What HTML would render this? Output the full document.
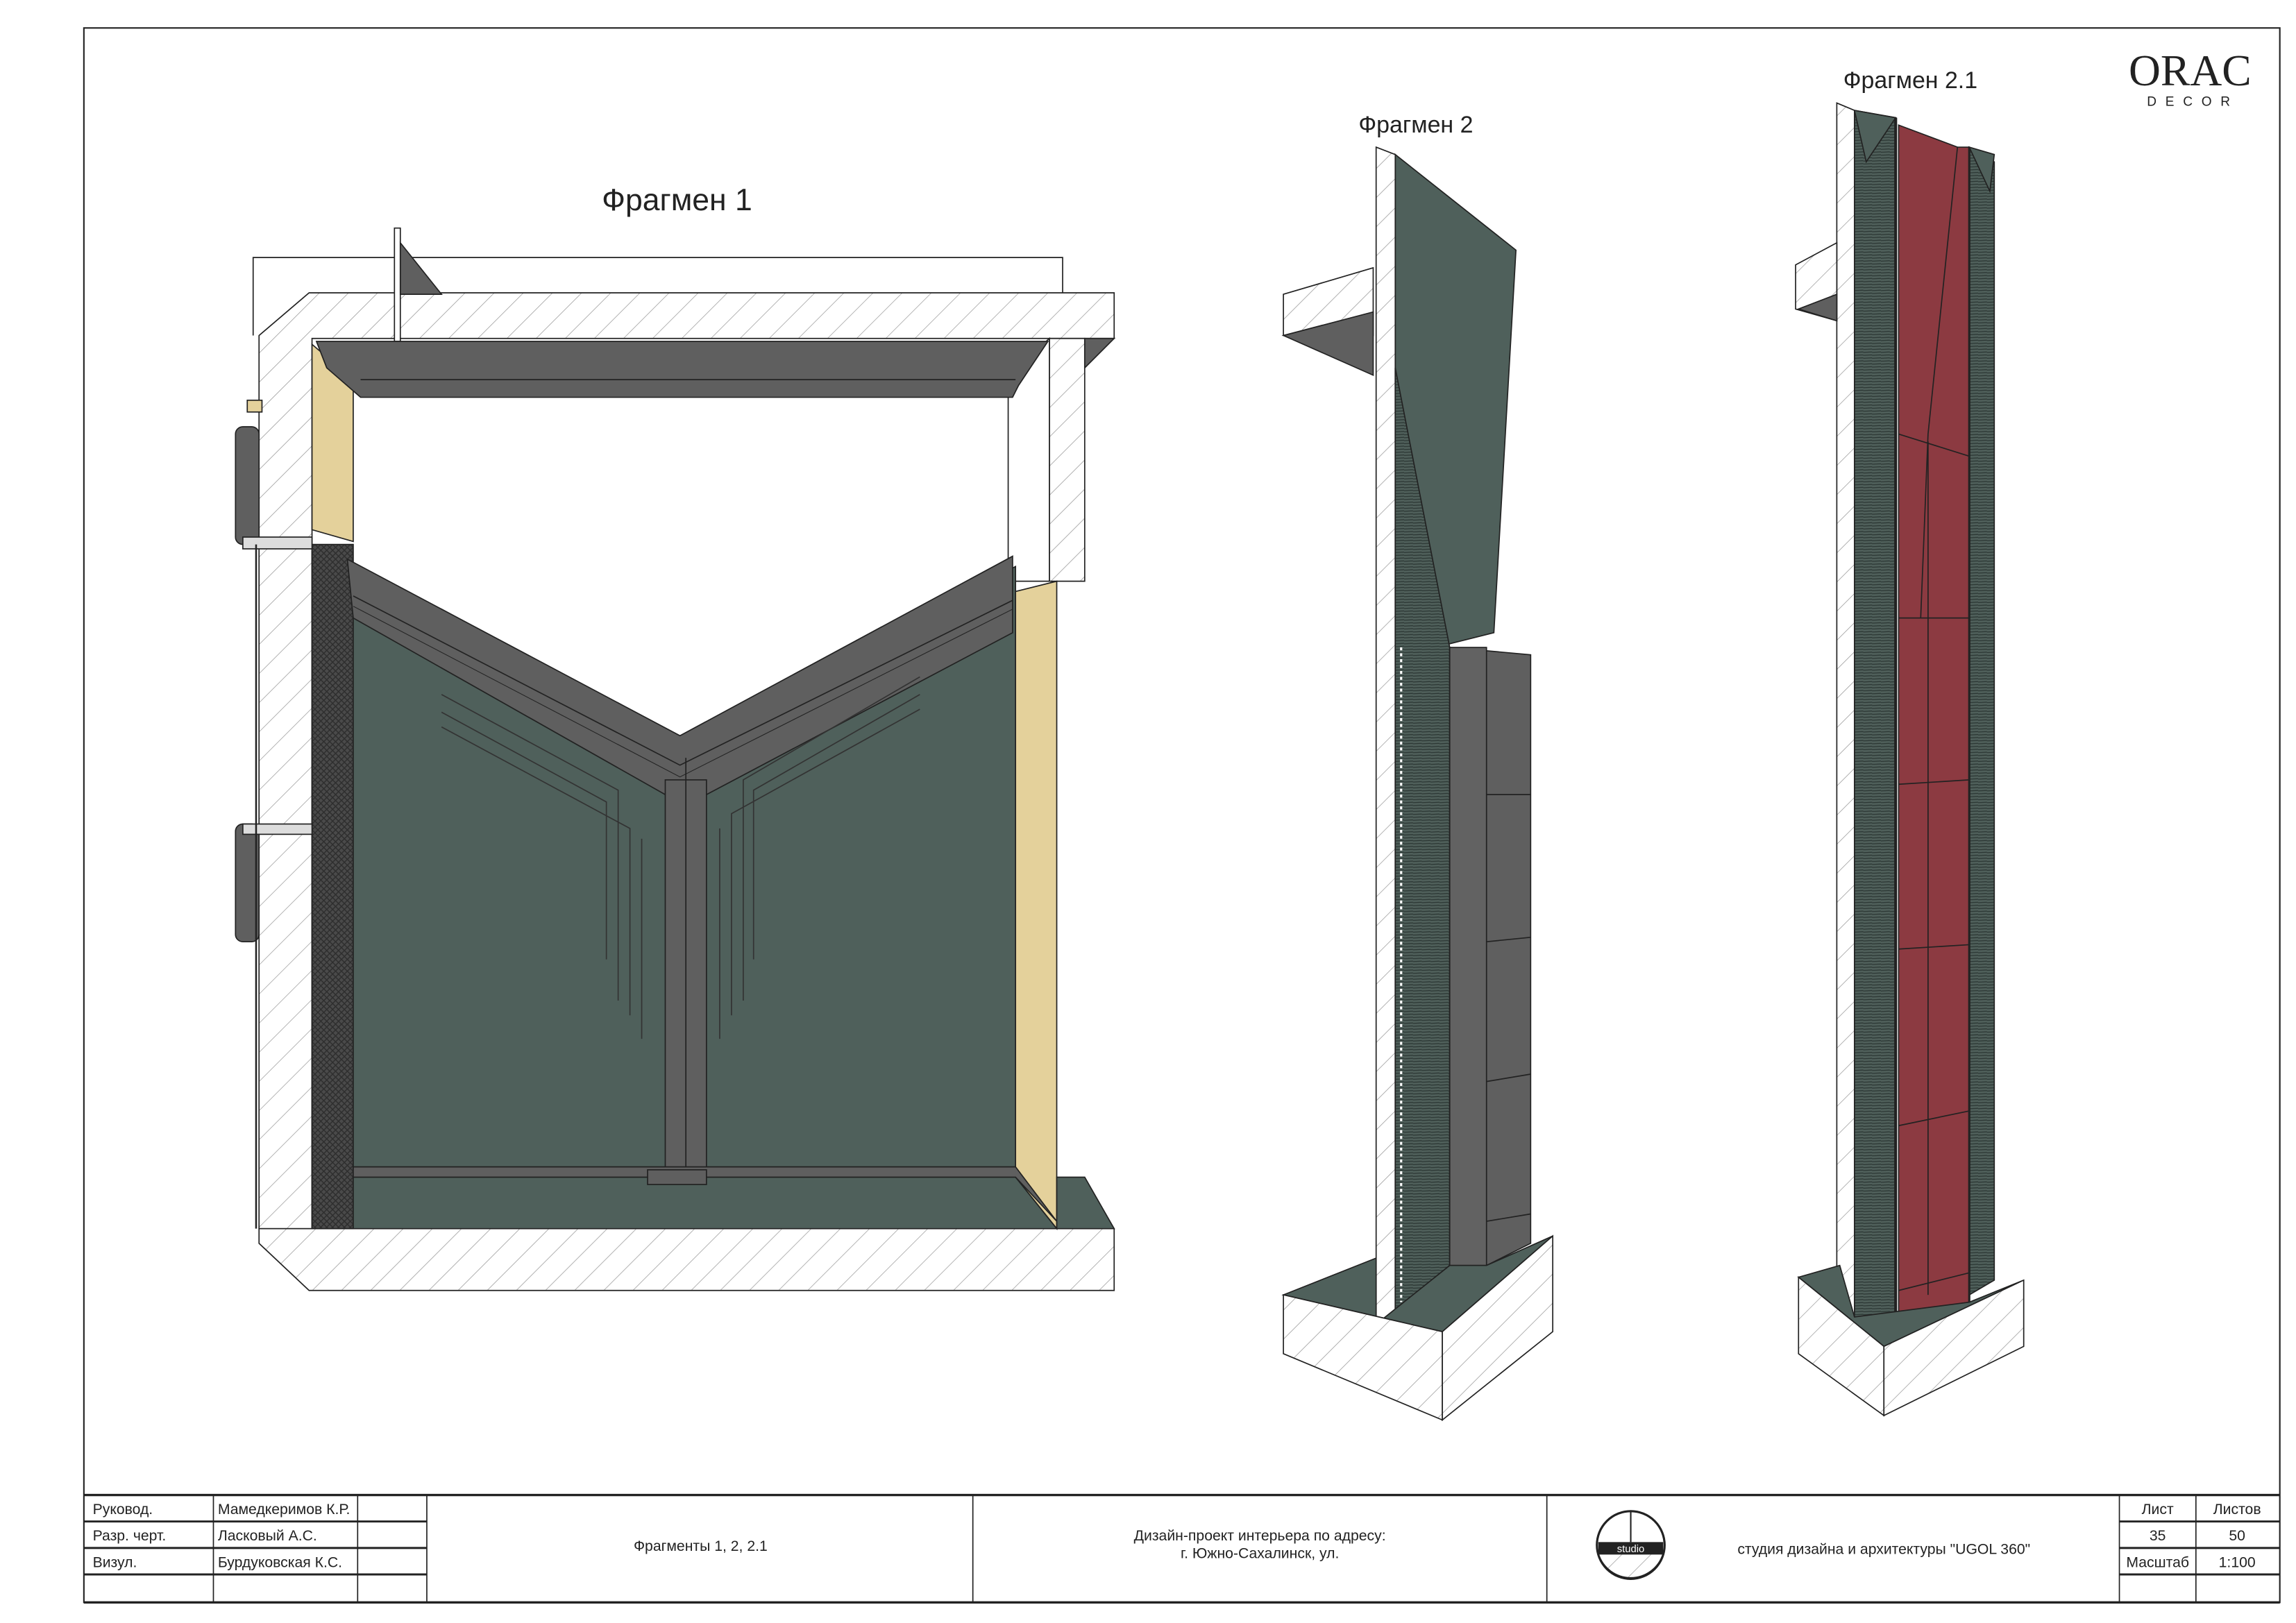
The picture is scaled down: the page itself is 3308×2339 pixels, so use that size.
<!DOCTYPE html>
<html><head><meta charset="utf-8"><style>
html,body{margin:0;padding:0;background:#fff;}
svg{display:block;}
text{font-family:"Liberation Sans Narrow","Liberation Sans",sans-serif;fill:#222;}
</style></head><body>
<svg width="3308" height="2339" viewBox="0 0 1560 1103" preserveAspectRatio="none" xmlns="http://www.w3.org/2000/svg">
<defs>
<pattern id="h" width="14" height="14" patternUnits="userSpaceOnUse" patternTransform="rotate(45)">
<rect width="14" height="14" fill="#fff"/><line x1="0" y1="0" x2="0" y2="14" stroke="#999" stroke-width="0.7"/></pattern>
<pattern id="m" width="4" height="4" patternUnits="userSpaceOnUse">
<rect width="4" height="4" fill="#4a4a4a"/><path d="M0 0L4 4M4 0L0 4" stroke="#2e2e2e" stroke-width="0.7"/></pattern>
<pattern id="s" width="6" height="2" patternUnits="userSpaceOnUse">
<rect width="6" height="2" fill="#4f5f5a"/><line x1="0" y1="1.5" x2="6" y2="1.2" stroke="#2a3532" stroke-width="0.6"/></pattern>
</defs>
<rect width="1560" height="1103" fill="#fff"/>
<rect x="57" y="19" width="1492" height="1070" fill="none" stroke="#222" stroke-width="1"/>
<g stroke="#222" stroke-width="0.8" fill="none">
<line x1="57" y1="1016" x2="1549" y2="1016" stroke-width="1.6"/>
<line x1="57" y1="1089" x2="1549" y2="1089" stroke-width="1.6"/>
<line x1="57" y1="1034" x2="290" y2="1034" stroke-width="1.4"/>
<line x1="57" y1="1052" x2="290" y2="1052" stroke-width="1.4"/>
<line x1="57" y1="1070" x2="290" y2="1070" stroke-width="1.4"/>
<line x1="1440" y1="1034" x2="1549" y2="1034" stroke-width="1.4"/>
<line x1="1440" y1="1052" x2="1549" y2="1052" stroke-width="1.4"/>
<line x1="1440" y1="1070" x2="1549" y2="1070" stroke-width="1.4"/>
<line x1="145" y1="1016" x2="145" y2="1089"/><line x1="243" y1="1016" x2="243" y2="1089"/>
<line x1="290" y1="1016" x2="290" y2="1089"/><line x1="661" y1="1016" x2="661" y2="1089"/>
<line x1="1051" y1="1016" x2="1051" y2="1089"/><line x1="1440" y1="1016" x2="1440" y2="1089"/>
<line x1="1492" y1="1016" x2="1492" y2="1089"/>
</g>
<g font-size="10">
<text x="63" y="1029">Руковод.</text><text x="148" y="1029">Мамедкеримов К.Р.</text>
<text x="63" y="1047">Разр. черт.</text><text x="148" y="1047">Ласковый А.С.</text>
<text x="63" y="1065">Визул.</text><text x="148" y="1065">Бурдуковская К.С.</text>
<text x="476" y="1054" text-anchor="middle">Фрагменты 1, 2, 2.1</text>
<text x="856" y="1047" text-anchor="middle">Дизайн-проект интерьера по адресу:</text>
<text x="856" y="1059" text-anchor="middle">г. Южно-Сахалинск, ул.</text>
<text x="1280" y="1056" text-anchor="middle">студия дизайна и архитектуры "UGOL 360"</text>
<text x="1466" y="1029" text-anchor="middle">Лист</text><text x="1520" y="1029" text-anchor="middle">Листов</text>
<text x="1466" y="1047" text-anchor="middle">35</text><text x="1520" y="1047" text-anchor="middle">50</text>
<text x="1466" y="1065" text-anchor="middle">Масштаб</text><text x="1520" y="1065" text-anchor="middle">1:100</text>
</g>
<circle cx="1108" cy="1050" r="23" fill="#fff" stroke="#222" stroke-width="1.5"/>
<path d="M1086 1056 A23 23 0 0 0 1130 1056 Z" fill="url(#h)" stroke="#222"/>
<rect x="1086" y="1048" width="44" height="8" fill="#222"/>
<text x="1108" y="1055" font-size="7" text-anchor="middle" style="fill:#fff">studio</text>
<line x1="1108" y1="1027" x2="1108" y2="1048" stroke="#222"/>
<text x="460" y="143" font-size="21" text-anchor="middle">Фрагмен 1</text>
<text x="962" y="90" font-size="16" text-anchor="middle">Фрагмен 2</text>
<text x="1298" y="60" font-size="16" text-anchor="middle">Фрагмен 2.1</text>
<text x="1488" y="58" font-size="30" text-anchor="middle" style="font-family:'Liberation Serif',serif">ORAC</text>
<text x="1490" y="72" font-size="9" text-anchor="middle" letter-spacing="6">DECOR</text>

<!-- FRAGMENT 1 -->
<g stroke="#222" stroke-width="0.8">
<polyline points="172,228 172,175 722,175 722,199" fill="none"/>
<polygon points="210,199 757,199 757,230 212,230 212,835 176,835 176,228" fill="url(#h)"/>
<polygon points="176,835 757,835 757,877 210,877 176,845" fill="url(#h)"/>
<polygon points="713,230 737,230 737,395 713,395" fill="url(#h)"/>
<polygon points="685,255 713,230 713,395 685,395" fill="#fff"/>
<polygon points="737,230 757,230 737,250" fill="#5f5f5f"/>
<polygon points="268,155 272,155 272,232 268,232" fill="#fff"/>
<polygon points="272,165 300,200 272,200" fill="#5f5f5f"/>
<polygon points="212,234 240,258 240,368 212,360" fill="#e4d19b"/>
<polygon points="690,402 718,395 718,835 690,800" fill="#e4d19b"/>
<polygon points="212,375 462,505 690,385 690,800 718,835 212,835" fill="#4f605b"/>
<polygon points="718,800 737,800 757,835 718,835" fill="#4f605b"/>
<rect x="212" y="370" width="28" height="465" fill="url(#m)"/>
<polygon points="215,232 712,232 692,262 688,270 245,270 222,250" fill="#5f5f5f"/>
<line x1="245" y1="258" x2="690" y2="258"/>
<polygon points="236,380 462,500 688,378 688,430 480,540 452,540 240,420" fill="#5f5f5f"/>
<polyline points="240,405 462,520 688,408" fill="none"/>
<polyline points="240,412 462,528 688,414" fill="none" stroke-width="0.5"/>
<rect x="452" y="530" width="28" height="270" fill="#5f5f5f"/>
<line x1="466" y1="515" x2="466" y2="800"/>
<polygon points="240,793 690,793 718,830 690,800 240,800" fill="#5f5f5f"/>
<rect x="440" y="795" width="40" height="10" fill="#5f5f5f"/>
<g fill="none" stroke="#333" stroke-width="0.8">
<polyline points="300,472 420,537 420,680"/><polyline points="300,484 412,545 412,652"/>
<polyline points="300,494 428,563 428,690"/><polyline points="436,570 436,706"/>
<polyline points="625,460 505,530 505,680"/><polyline points="625,472 512,537 512,652"/>
<polyline points="625,482 497,553 497,690"/><polyline points="489,563 489,706"/>
</g>
<rect x="160" y="290" width="16" height="80" rx="5" fill="#5f5f5f"/>
<rect x="165" y="365" width="47" height="8" fill="#ddd"/>
<rect x="160" y="560" width="16" height="80" rx="5" fill="#5f5f5f"/>
<rect x="165" y="560" width="47" height="7" fill="#ddd"/>
<rect x="168" y="272" width="10" height="8" fill="#e4d19b"/>
<line x1="174" y1="370" x2="174" y2="835" stroke-width="1.2"/>
</g>

<!-- FRAGMENT 2 -->
<g stroke="#222" stroke-width="0.8">
<polygon points="948,105 1030,170 1015,430 975,440 948,330" fill="#4f605b"/>
<polygon points="872,200 933,182 933,228 872,228" fill="url(#h)"/>
<polygon points="872,228 933,212 933,255" fill="#5f5f5f"/>
<polygon points="935,100 948,105 948,925 935,925" fill="url(#h)"/>
<polygon points="948,250 985,440 985,860 948,890" fill="url(#s)"/>
<line x1="952" y1="440" x2="952" y2="885" stroke="#fff" stroke-width="1.5" stroke-dasharray="2 2"/>
<polygon points="985,440 1040,445 1040,845 1010,860 985,860" fill="#5f5f5f"/>
<rect x="985" y="440" width="25" height="420" fill="#626262"/>
<g fill="none"><line x1="1010" y1="540" x2="1040" y2="540"/><line x1="1010" y1="640" x2="1040" y2="637"/><line x1="1010" y1="735" x2="1040" y2="730"/><line x1="1010" y1="830" x2="1040" y2="825"/></g>
<polygon points="872,880 935,855 935,900 985,860 1010,860 1055,840 980,905" fill="#4f605b"/>
<polygon points="872,880 980,905 980,965 872,920" fill="url(#h)"/>
<polygon points="980,905 1055,840 1055,905 980,965" fill="url(#h)"/>
</g>

<!-- FRAGMENT 2.1 -->
<g stroke="#222" stroke-width="0.8">
<polygon points="1248,70 1260,75 1260,895 1248,890" fill="url(#h)"/>
<polygon points="1220,180 1248,165 1248,218 1220,210" fill="url(#h)"/>
<polygon points="1222,210 1248,200 1248,218" fill="#5f5f5f"/>
<polygon points="1260,75 1288,80 1288,895 1260,895" fill="url(#s)"/>
<polygon points="1338,100 1355,110 1355,870 1338,880" fill="url(#s)"/>
<polygon points="1260,75 1288,80 1268,110" fill="#4f605b"/>
<polygon points="1338,100 1355,105 1352,130" fill="#4f605b"/>
<polygon points="1290,85 1330,100 1338,100 1338,885 1290,892" fill="#8c3a41"/>
<line x1="1288" y1="80" x2="1288" y2="895" stroke-width="2"/>
<line x1="1338" y1="100" x2="1338" y2="885" stroke-width="1.5"/>
<g fill="none">
<line x1="1330" y1="100" x2="1310" y2="295"/><line x1="1310" y1="295" x2="1305" y2="420"/>
<line x1="1310" y1="300" x2="1310" y2="880"/>
<line x1="1290" y1="295" x2="1338" y2="310"/><line x1="1290" y1="420" x2="1338" y2="420"/>
<line x1="1290" y1="533" x2="1338" y2="530"/><line x1="1290" y1="645" x2="1338" y2="642"/>
<line x1="1290" y1="765" x2="1338" y2="755"/><line x1="1290" y1="877" x2="1338" y2="865"/>
</g>
<polygon points="1222,868 1250,860 1260,895 1338,885 1375,870 1280,915" fill="#4f605b"/>
<polygon points="1222,868 1280,915 1280,962 1222,920" fill="url(#h)"/>
<polygon points="1280,915 1375,870 1375,915 1280,962" fill="url(#h)"/>
</g>
</svg>
</body></html>
